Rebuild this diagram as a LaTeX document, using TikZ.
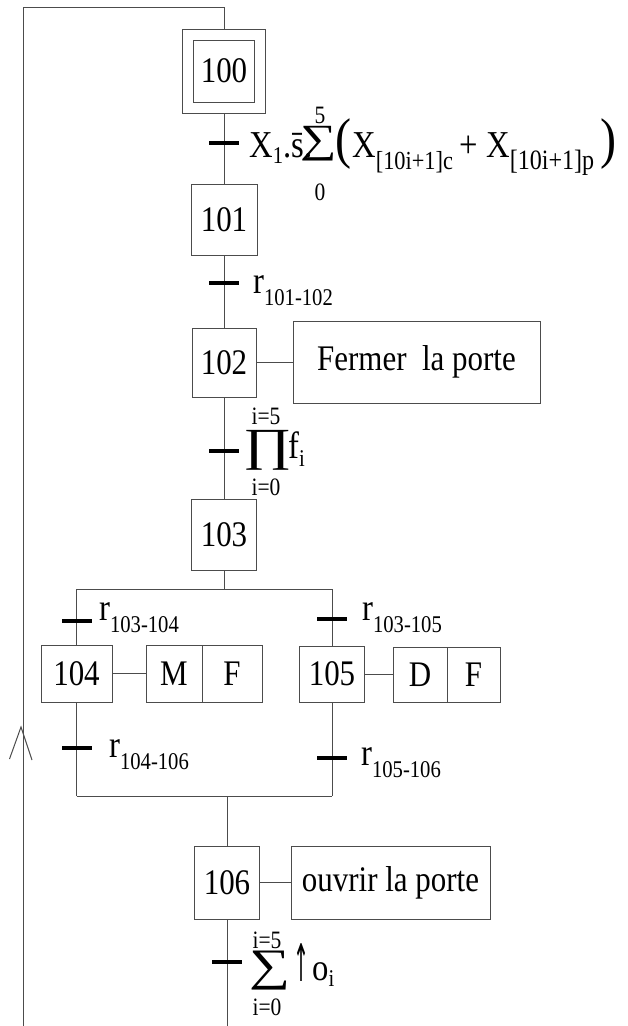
\documentclass[tikz,border=0pt]{standalone}
\usepackage{graphicx}
\usepackage{fontspec}
\setmainfont{Liberation Serif}[FakeStretch=0.86]
\newfontfamily\symb{Liberation Serif}
\newfontfamily\fleche{DejaVu Sans}
\newcommand\ind[2][-12pt]{\raisebox{#1}{\fontsize{24}{24}\selectfont #2}}
\newcommand\elargi[1]{\scalebox{1.28}[1]{#1}}

\begin{document}
\begin{tikzpicture}[x=1pt, y=-1pt,
    every node/.style={inner sep=0pt, font=\fontsize{36}{36}\selectfont},
    ligne/.style={draw=black!70, line width=1pt},
    etape/.style={ligne, minimum width=65pt, minimum height=71pt},
    action/.style={ligne, minimum height=73pt},
    trans/.style={fill=black, minimum width=30pt, minimum height=4pt},
    petit/.style={font=\fontsize{25}{25}\selectfont},
    grand/.style={anchor=base, font=\symb\fontsize{46}{46}\selectfont},
    lbl/.style={anchor=base west, font=\fontsize{38}{38}\selectfont}]
    \useasboundingbox (0,0) rectangle (628,1026);

    \node[etape, double, double distance=10pt, outer sep=6pt,
          minimum width=72pt, minimum height=73pt] (s100) at (224,71) {100};
    \node[etape, minimum width=66pt] (s101) at (224,219.5) {101};
    \node[etape, minimum width=64pt, minimum height=69pt] (s102) at (224,362.5) {102};
    \node[etape] (s103) at (224,534.5) {103};
    \node[etape, minimum width=71pt, minimum height=57pt] (s104) at (76.5,673.5) {104};
    \node[etape, minimum height=56pt] (s105) at (332,674) {105};
    \node[etape, minimum height=73pt] (s106) at (227,882.5) {106};

    \node[action, minimum width=247pt, minimum height=82pt] (a102) at (416.5,362) {Fermer~~la porte};
    \node[ligne, minimum width=56pt, minimum height=57pt] (m104) at (174,673.5) {M};
    \node[ligne, minimum width=60pt, minimum height=57pt] (f104) at (232,673.5) {F};
    \node[ligne, minimum width=54pt, minimum height=55pt] (d105) at (420,674.5) {D};
    \node[ligne, minimum width=53pt, minimum height=55pt] (f105) at (473.5,674.5) {F};
    \node[action, minimum width=199pt] (a106) at (390.5,882.5) {ouvrir la porte};

    \node[trans] (t1) at (224,143) {};
    \node[trans] (t2) at (224,283) {};
    \node[trans] (t3) at (224,451) {};
    \node[trans] (t4) at (76.5,621) {};
    \node[trans] (t5) at (332,619) {};
    \node[trans] (t6) at (76.5,748) {};
    \node[trans] (t7) at (332,758) {};
    \node[trans] (t8) at (227,962) {};

    \coordinate (haut) at (224,7);
    \coordinate (coin) at (23,7);
    \coordinate (bas) at (23,1026);
    \coordinate (g) at (76.5,589);
    \coordinate (d) at (332,589);
    \coordinate (jg) at (76.5,796);
    \coordinate (jd) at (332,796);

    % bouclage
    \draw[ligne] (bas) -- (coin) -- (haut) -- (s100.north);
    \draw[ligne] (9.5,759) -- (21,727) -- (32,760);

    \draw[ligne] (s100.south) -- (t1) -- (s101) -- (t2) -- (s102) -- (t3) -- (s103);
    \draw[ligne] (s103) -- (s103 |- g);
    \draw[ligne] (g) -- (d);
    \draw[ligne] (g) -- (t4) -- (s104) -- (t6) -- (jg);
    \draw[ligne] (d) -- (t5) -- (s105) -- (t7) -- (jd);
    \draw[ligne] (jg) -- (jd);
    \draw[ligne] (s106 |- jg) -- (s106) -- (t8) -- (s106 |- bas);

    \draw[ligne] (s102.east) -- (s102.east -| a102.west);
    \draw[ligne] (s104.east) -- (s104.east -| m104.west);
    \draw[ligne] (s105.east) -- (s105.east -| d105.west);
    \draw[ligne] (s106.east) -- (s106.east -| a106.west);

    % receptivites
    \node[lbl] (r1a) at (249,157) {X\ind[-6pt]{1}.\=s.};
    \node[grand, font=\symb\fontsize{40}{40}\selectfont] (r1s) at (319,152) {\elargi{∑}};
    \node[petit] (r1h) at (320,115) {5};
    \node[petit] (r1b) at (320,192) {0};
    \node[lbl, font=\fontsize{56}{56}\selectfont] (r1p) at (335,157) {(};
    \node[lbl] (r1c) at (352,157) {X\ind{\fontsize{26}{26}\selectfont[10i+1]c}};
    \node[lbl] (r1d) at (459,157) {+};
    \node[lbl] (r1e) at (486,157) {X\ind{\fontsize{28}{28}\selectfont[10i+1]p}};
    \node[anchor=base east, font=\fontsize{56}{56}\selectfont] (r1f) at (617,157) {)};

    \node[lbl] (r2) at (253,293) {r\ind{101-102}};

    \node[grand] (r3s) at (268,460) {\elargi{∏}};
    \node[petit] (r3h) at (266,416) {i=5};
    \node[petit] (r3b) at (266,487) {i=0};
    \node[lbl] (r3f) at (288,458) {f\ind[-8pt]{i}};

    \node[lbl] (r4) at (99,620) {r\ind{103-104}};
    \node[lbl] (r5) at (362,620) {r\ind{103-105}};
    \node[lbl] (r6) at (109,757) {r\ind{104-106}};
    \node[lbl] (r7) at (361,765) {r\ind{105-106}};

    \node[grand, font=\symb\fontsize{45}{45}\selectfont] (r8s) at (270,980) {\elargi{∑}};
    \node[petit] (r8h) at (267,940) {i=5};
    \node[petit] (r8b) at (267,1007) {i=0};
    \node (r8u) at (301,962) {\resizebox{16pt}{38pt}{\fleche ↑}};
    \node[lbl] (r8o) at (312,980) {o\ind[-6pt]{i}};
\end{tikzpicture}
\end{document}
